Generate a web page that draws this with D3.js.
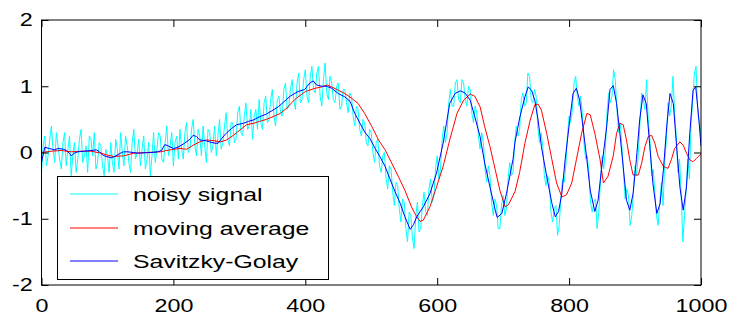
<!DOCTYPE html>
<html>
<head>
<meta charset="utf-8">
<script src="https://cdn.jsdelivr.net/npm/d3@7/dist/d3.min.js"></script>
<style>
  body { margin: 0; background: #fff; }
  svg { display: block; }
</style>
</head>
<body>
<div id="chart"></div>
<script>
// x ticks / y ticks
const xTicks = [0, 200, 400, 600, 800, 1000];
const yTicks = [-2, -1, 0, 1, 2];

// noisy signal, one reading every 2.5 samples (0..1000), 25 samples per row
const noisyStep = 2.5;
const noisyValues = [
  -0.30, 0.10, 0.25, -0.20, -0.05, 0.20, 0.40, 0.05, -0.15, 0.30,
  0.10, -0.10, -0.25, 0.15, 0.30, -0.20, 0.05, 0.25, -0.35, -0.05,
  0.15, -0.30, -0.10, 0.20, 0.35, -0.15, -0.05, 0.10, -0.30, 0.25,
  0.20, -0.05, 0.30, -0.25, -0.15, 0.15, 0.10, -0.20, -0.35, 0.05,
  -0.05, -0.30, 0.15, -0.15, -0.30, 0.20, 0.05, -0.25, 0.30, 0.00,
  -0.20, 0.25, 0.10, -0.15, -0.30, 0.15, 0.35, -0.10, 0.00, 0.20,
  -0.20, 0.05, 0.25, -0.25, -0.10, 0.15, -0.35, -0.05, 0.30, -0.15,
  0.05, 0.30, 0.25, -0.10, -0.15, 0.15, 0.40, -0.05, 0.10, 0.30,
  -0.20, 0.15, 0.25, -0.10, 0.35, 0.05, -0.10, 0.30, 0.45, 0.00,
  0.05, 0.35, 0.50, 0.10, -0.05, 0.35, 0.25, -0.05, 0.40, 0.10,
  -0.15, 0.35, 0.30, 0.00, 0.10, 0.40, -0.05, 0.25, 0.50, 0.05,
  0.15, 0.40, 0.60, 0.20, 0.10, 0.45, 0.45, 0.15, 0.20, 0.60,
  0.70, 0.30, 0.25, 0.55, 0.75, 0.35, 0.40, 0.65, 0.20, 0.55,
  0.65, 0.35, 0.80, 0.45, 0.35, 0.75, 0.85, 0.45, 0.50, 0.80,
  0.95, 0.55, 0.40, 0.80, 0.85, 0.60, 0.55, 0.95, 1.05, 0.65,
  0.70, 0.95, 1.10, 0.80, 0.65, 1.05, 1.20, 0.75, 0.80, 1.10,
  1.25, 0.85, 0.75, 1.15, 1.30, 0.95, 0.90, 1.20, 1.30, 0.85,
  0.70, 1.10, 1.35, 0.90, 0.80, 1.15, 1.05, 0.80, 0.75, 1.00,
  1.05, 0.65, 0.70, 0.95, 0.95, 0.75, 0.60, 0.90, 0.85, 0.55,
  0.40, 0.70, 0.65, 0.35, 0.25, 0.50, 0.45, 0.15, 0.10, 0.35,
  0.30, 0.00, -0.15, 0.15, 0.20, -0.20, -0.30, -0.05, 0.00, -0.40,
  -0.55, -0.20, -0.25, -0.60, -0.80, -0.45, -0.50, -0.85, -1.05, -0.70,
  -0.75, -1.15, -1.35, -0.90, -0.95, -1.30, -1.45, -0.95, -0.75, -1.20,
  -1.15, -0.80, -0.60, -0.90, -0.95, -0.55, -0.40, -0.75, -0.65, -0.25,
  -0.05, -0.40, -0.25, 0.20, 0.40, 0.15, 0.30, 0.75, 0.95, 0.70,
  0.70, 1.05, 1.10, 0.80, 0.75, 1.10, 1.05, 0.80, 0.70, 1.00,
  0.95, 0.60, 0.45, 0.70, 0.60, 0.25, 0.05, 0.30, 0.15, -0.25,
  -0.45, -0.20, -0.35, -0.75, -0.95, -0.70, -0.80, -1.15, -1.15, -0.80,
  -0.65, -0.95, -0.85, -0.40, -0.15, -0.35, -0.30, 0.15, 0.40, 0.25,
  0.35, 0.80, 0.90, 0.70, 0.75, 1.20, 1.15, 0.80, 0.75, 0.95,
  0.85, 0.40, 0.15, 0.30, 0.10, -0.35, -0.50, -0.35, -0.45, -0.90,
  -1.05, -0.85, -0.80, -1.25, -1.10, -0.70, -0.40, -0.45, -0.20, 0.25,
  0.55, 0.45, 0.65, 1.05, 1.15, 0.85, 0.70, 0.85, 0.60, 0.15,
  -0.10, -0.05, -0.30, -0.75, -0.90, -0.75, -0.70, -1.15, -0.90, -0.45,
  -0.05, -0.25, 0.05, 0.60, 0.90, 0.75, 0.85, 1.25, 1.10, 0.65,
  0.30, 0.45, 0.10, -0.30, -0.70, -0.55, -0.65, -1.10, -0.95, -0.60,
  -0.20, -0.35, 0.00, 0.45, 0.90, 0.80, 0.65, 1.10, 0.50, 0.20,
  -0.35, -0.25, -0.60, -0.95, -1.10, -0.75, -0.45, -0.80, -0.15, 0.20,
  0.75, 0.55, 0.70, 1.15, 0.60, 0.25, -0.30, -0.10, -0.65, -1.35,
  -0.95, -0.55, -0.10, -0.40, 0.45, 0.80, 1.20, 1.30, 0.60, 0.45,
  0.25
];

// moving average, read at [sample, value]
const movingAvg = [
  [0, 0.00], [15, 0.02], [30, 0.03], [45, 0.01], [60, 0.02], [75, 0.02],
  [90, -0.01], [100, -0.04], [110, -0.06], [125, -0.05], [140, -0.01],
  [160, 0.00], [180, 0.01], [195, 0.04], [210, 0.06], [220, 0.05],
  [230, 0.11], [240, 0.16], [250, 0.19], [260, 0.18], [271, 0.16],
  [281, 0.19], [291, 0.26], [301, 0.34], [311, 0.42], [321, 0.44],
  [331, 0.47], [341, 0.50], [351, 0.54], [362, 0.59], [372, 0.67],
  [384, 0.80], [400, 0.92], [415, 0.97], [425, 0.99], [433, 1.02],
  [440, 0.99], [450, 0.94], [460, 0.89], [470, 0.82], [480, 0.74],
  [490, 0.59], [501, 0.39], [511, 0.19], [521, 0.04], [531, -0.16],
  [541, -0.36], [551, -0.57], [561, -0.82], [566, -0.92], [574, -1.04],
  [579, -1.02], [589, -0.82], [599, -0.52], [609, -0.21], [619, 0.19],
  [630, 0.59], [640, 0.79], [650, 0.88], [657, 0.85], [665, 0.69],
  [672, 0.39], [680, 0.09], [688, -0.26], [695, -0.57], [703, -0.82],
  [708, -0.79], [718, -0.59], [725, -0.30], [733, 0.14], [741, 0.49],
  [748, 0.72], [753, 0.73], [758, 0.64], [766, 0.29], [774, -0.11],
  [781, -0.46], [789, -0.67], [796, -0.64], [804, -0.46], [811, -0.11],
  [819, 0.29], [827, 0.59], [832, 0.57], [839, 0.29], [847, -0.11],
  [852, -0.46], [859, -0.36], [867, -0.05], [872, 0.29], [877, 0.44],
  [882, 0.42], [887, 0.19], [892, -0.11], [897, -0.34], [905, -0.34],
  [910, -0.16], [915, 0.09], [920, 0.24], [925, 0.26], [930, 0.14],
  [935, -0.06], [943, -0.21], [950, -0.24], [955, -0.11], [960, 0.06],
  [968, 0.16], [973, 0.11], [978, -0.01], [983, -0.11], [988, -0.14],
  [993, -0.09], [998, -0.04], [1000, -0.03]
];

// Savitzky-Golay, read at [sample, value]
const savGolay = [
  [0, -0.15], [5, 0.08], [12, 0.06], [20, 0.04], [25, 0.06], [33, 0.05],
  [38, 0.03], [43, -0.02], [45, -0.05], [50, -0.01], [55, 0.01], [65, 0.02],
  [75, 0.03], [83, 0.04], [88, 0.01], [93, -0.04], [98, -0.06], [106, -0.08],
  [111, -0.06], [118, -0.02], [124, 0.01], [131, 0.01], [139, 0.00],
  [146, -0.01], [166, 0.00], [176, 0.01], [182, 0.03], [187, 0.12],
  [192, 0.10], [200, 0.06], [207, 0.08], [217, 0.14], [225, 0.20],
  [230, 0.26], [235, 0.24], [240, 0.19], [248, 0.18], [255, 0.16],
  [263, 0.14], [268, 0.14], [273, 0.21], [281, 0.30], [288, 0.36],
  [296, 0.42], [306, 0.44], [314, 0.47], [321, 0.49], [331, 0.54],
  [341, 0.58], [351, 0.64], [359, 0.69], [367, 0.76], [377, 0.85],
  [389, 0.92], [399, 0.95], [407, 1.05], [412, 1.08], [417, 1.02],
  [425, 1.00], [432, 1.00], [440, 0.97], [450, 0.89], [460, 0.84],
  [468, 0.77], [475, 0.59], [483, 0.44], [490, 0.31], [498, 0.21],
  [506, 0.06], [513, -0.06], [521, -0.21], [528, -0.39], [536, -0.59],
  [544, -0.77], [551, -0.97], [559, -1.16], [564, -1.09], [569, -0.97],
  [579, -0.82], [589, -0.62], [599, -0.31], [609, 0.14], [614, 0.44],
  [619, 0.74], [627, 0.89], [635, 0.93], [642, 0.90], [650, 0.79],
  [657, 0.54], [665, 0.24], [672, -0.16], [680, -0.52], [688, -0.87],
  [691, -0.98], [698, -0.92], [705, -0.62], [715, -0.10], [718, 0.16],
  [725, 0.52], [733, 0.84], [738, 0.99], [743, 0.94], [748, 0.79],
  [753, 0.49], [758, 0.09], [766, -0.36], [774, -0.77], [779, -0.97],
  [784, -0.89], [789, -0.62], [794, -0.11], [801, 0.49], [806, 0.89],
  [811, 0.97], [816, 0.79], [821, 0.39], [827, -0.11], [832, -0.57],
  [839, -0.89], [844, -0.72], [849, -0.26], [857, 0.39], [862, 0.95],
  [867, 1.01], [872, 0.74], [877, 0.29], [882, -0.21], [887, -0.72],
  [892, -0.87], [897, -0.62], [902, -0.11], [907, 0.49], [912, 0.87],
  [917, 0.74], [922, 0.14], [927, -0.46], [933, -0.92], [938, -0.77],
  [943, -0.26], [948, 0.39], [953, 0.89], [958, 0.74], [963, 0.09],
  [968, -0.52], [973, -0.87], [978, -0.52], [983, 0.29], [988, 0.94],
  [992, 0.99], [996, 0.59], [1000, 0.10]
];

const legendNames = ["noisy signal", "moving average", "Savitzky-Golay"];
const legendColors = ["#00ffff", "#ff0000", "#0000ff"];

const width = 744, height = 321;
const plot = {left: 41.5, right: 701, top: 20, bottom: 285};
const font = "'Liberation Sans', Arial, Helvetica, sans-serif";
const tickStretch = 1.26;    // the picture's text is wider than it is tall
const legendStretch = 1.34;

const svg = d3.select("#chart")
    .append("svg")
    .attr("width", width)
    .attr("height", height);

const x = d3.scaleLinear().domain([0, 1000]).range([plot.left, plot.right]);
const y = d3.scaleLinear().domain([-2, 2]).range([plot.bottom, plot.top]);

svg.append("clipPath").attr("id", "plotclip")
    .append("rect")
    .attr("x", plot.left).attr("y", plot.top)
    .attr("width", plot.right - plot.left)
    .attr("height", plot.bottom - plot.top);

// the three lines
const lines = svg.append("g").attr("clip-path", "url(#plotclip)");

const noisyLine = d3.line()
    .x((d, i) => x(i * noisyStep))
    .y(d => y(d));

const pairLine = d3.line()
    .x(d => x(d[0]))
    .y(d => y(d[1]));

lines.append("path")
    .attr("d", noisyLine(noisyValues))
    .attr("fill", "none")
    .attr("stroke", legendColors[0])
    .attr("stroke-width", 1);

lines.append("path")
    .attr("d", pairLine(movingAvg))
    .attr("fill", "none")
    .attr("stroke", legendColors[1])
    .attr("stroke-width", 1);

lines.append("path")
    .attr("d", pairLine(savGolay))
    .attr("fill", "none")
    .attr("stroke", legendColors[2])
    .attr("stroke-width", 1);

// axes, ticks pointing inward on all four sides
const tickLen = 7;
const fmt = d => String(d);

svg.append("g")
    .attr("class", "labelled")
    .attr("transform", `translate(0,${plot.bottom})`)
    .call(d3.axisBottom(x).tickValues(xTicks).tickFormat(fmt)
        .tickSizeInner(-tickLen).tickSizeOuter(0).tickPadding(14))
    .call(g => g.select(".domain").remove());

svg.append("g")
    .attr("transform", `translate(0,${plot.top})`)
    .call(d3.axisTop(x).tickValues(xTicks).tickSizeInner(-tickLen).tickSizeOuter(0).tickFormat(""))
    .call(g => g.select(".domain").remove());

svg.append("g")
    .attr("class", "labelled")
    .attr("transform", `translate(${plot.left},0)`)
    .call(d3.axisLeft(y).tickValues(yTicks).tickFormat(fmt)
        .tickSizeInner(-tickLen).tickSizeOuter(0).tickPadding(7))
    .call(g => g.select(".domain").remove());

svg.append("g")
    .attr("transform", `translate(${plot.right},0)`)
    .call(d3.axisRight(y).tickValues(yTicks).tickSizeInner(-tickLen).tickSizeOuter(0).tickFormat(""))
    .call(g => g.select(".domain").remove());

svg.selectAll(".tick line").attr("stroke", "#000");
svg.selectAll(".labelled .tick text")
    .attr("fill", "#000")
    .style("font-family", font)
    .style("font-size", "18.5px")
    .attr("transform", `scale(${tickStretch},1)`);

// box
svg.append("rect")
    .attr("x", plot.left).attr("y", plot.top)
    .attr("width", plot.right - plot.left)
    .attr("height", plot.bottom - plot.top)
    .attr("fill", "none")
    .attr("stroke", "#000")
    .attr("stroke-width", 1);

// legend
const legend = svg.append("g");
legend.append("rect")
    .attr("x", 57.5).attr("y", 176.5)
    .attr("width", 271).attr("height", 103)
    .attr("fill", "#fff")
    .attr("stroke", "#000");

const rowY = [194, 228, 261];
legendNames.forEach((name, i) => {
    legend.append("line")
        .attr("x1", 70).attr("x2", 118)
        .attr("y1", rowY[i]).attr("y2", rowY[i])
        .attr("stroke", legendColors[i])
        .attr("stroke-width", 1.2);
    legend.append("g")
        .attr("transform", `translate(133,${rowY[i] + 6.5}) scale(${legendStretch},1)`)
        .append("text")
        .style("font-family", font)
        .style("font-size", "18.5px")
        .attr("fill", "#000")
        .text(name);
});
</script>
</body>
</html>
